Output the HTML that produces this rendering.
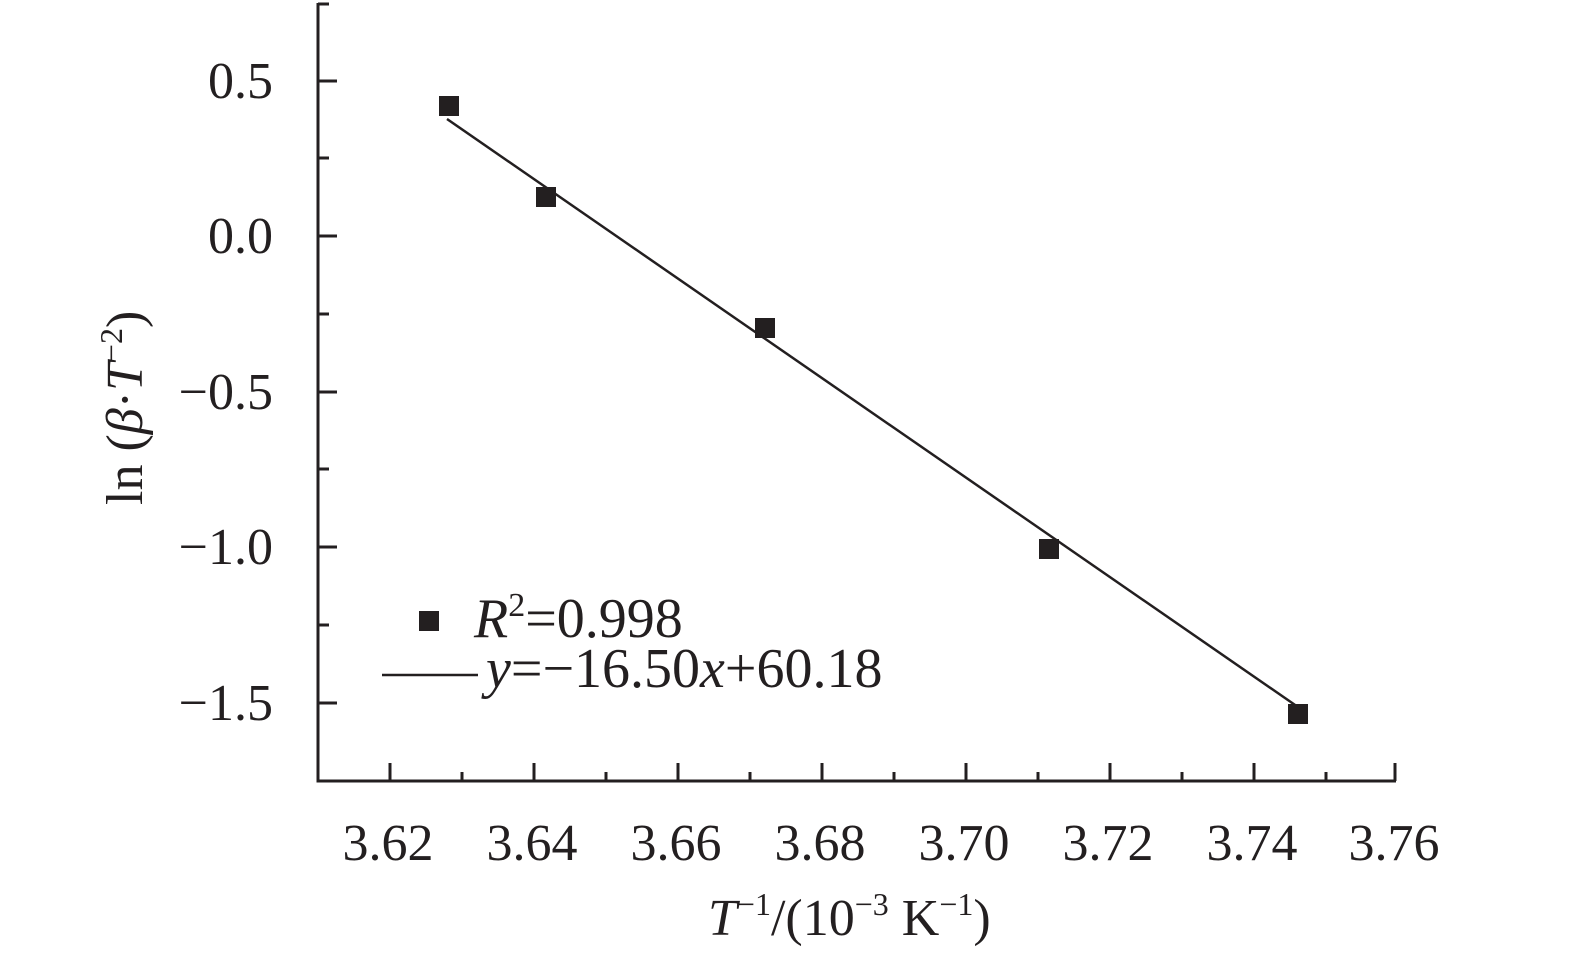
<!DOCTYPE html>
<html><head><style>body{margin:0;background:#fff}svg{display:block}</style></head><body>
<svg width="1575" height="955" xmlns="http://www.w3.org/2000/svg" font-family="Liberation Serif, serif" fill="#231f20">
<g stroke="#231f20" stroke-width="3" fill="none">
<path d="M318,3 V781 H1396"/>
<path d="M318,4 H329 M318,81 H337 M318,158 H329 M318,236 H337 M318,314 H329 M318,392 H337 M318,469 H329 M318,547 H337 M318,625 H329 M318,703 H337"/>
<path d="M390,781 V763 M462,781 V772 M534,781 V763 M606,781 V772 M678,781 V763 M750,781 V772 M822,781 V763 M894,781 V772 M966,781 V763 M1038,781 V772 M1110,781 V763 M1182,781 V772 M1254,781 V763 M1326,781 V772 M1395,781 V763"/>
<path d="M447,119 L1298,707" stroke-width="2.5"/>
<path d="M382,675 H478" stroke-width="2.5"/>
</g>
<g>
<rect x="439" y="96" width="20" height="20"/><rect x="536" y="187" width="20" height="20"/><rect x="755" y="318" width="20" height="20"/><rect x="1039" y="539" width="20" height="20"/><rect x="1288" y="704" width="20" height="20"/>
<rect x="419" y="611" width="20" height="20"/>
</g>
<g font-size="52" text-anchor="end">
<text x="273" y="98">0.5</text><text x="273" y="253">0.0</text><text x="273" y="409">−0.5</text><text x="273" y="564">−1.0</text><text x="273" y="720">−1.5</text>
</g>
<g font-size="52" text-anchor="middle">
<text x="388" y="860">3.62</text><text x="532" y="860">3.64</text><text x="676" y="860">3.66</text><text x="820" y="860">3.68</text><text x="964" y="860">3.70</text><text x="1108" y="860">3.72</text><text x="1252" y="860">3.74</text><text x="1394" y="860">3.76</text>
</g>
<text x="708" y="935" font-size="52"><tspan font-style="italic">T</tspan><tspan font-size="32" dy="-20">−1</tspan><tspan dy="20">/(10</tspan><tspan font-size="32" dy="-20">−3</tspan><tspan dy="20"> K</tspan><tspan font-size="32" dy="-20">−1</tspan><tspan dy="20">)</tspan></text>
<text transform="translate(142,505) rotate(-90)" font-size="52">ln (<tspan font-style="italic">β</tspan>·<tspan font-style="italic">T</tspan><tspan font-size="32" dy="-20">−2</tspan><tspan dy="20">)</tspan></text>
<text x="474" y="637" font-size="56"><tspan font-style="italic">R</tspan><tspan font-size="34" dy="-21">2</tspan><tspan dy="21">=0.998</tspan></text>
<text x="486" y="687" font-size="56"><tspan font-style="italic">y</tspan>=−16.50<tspan font-style="italic">x</tspan>+60.18</text>
</svg>
</body></html>
